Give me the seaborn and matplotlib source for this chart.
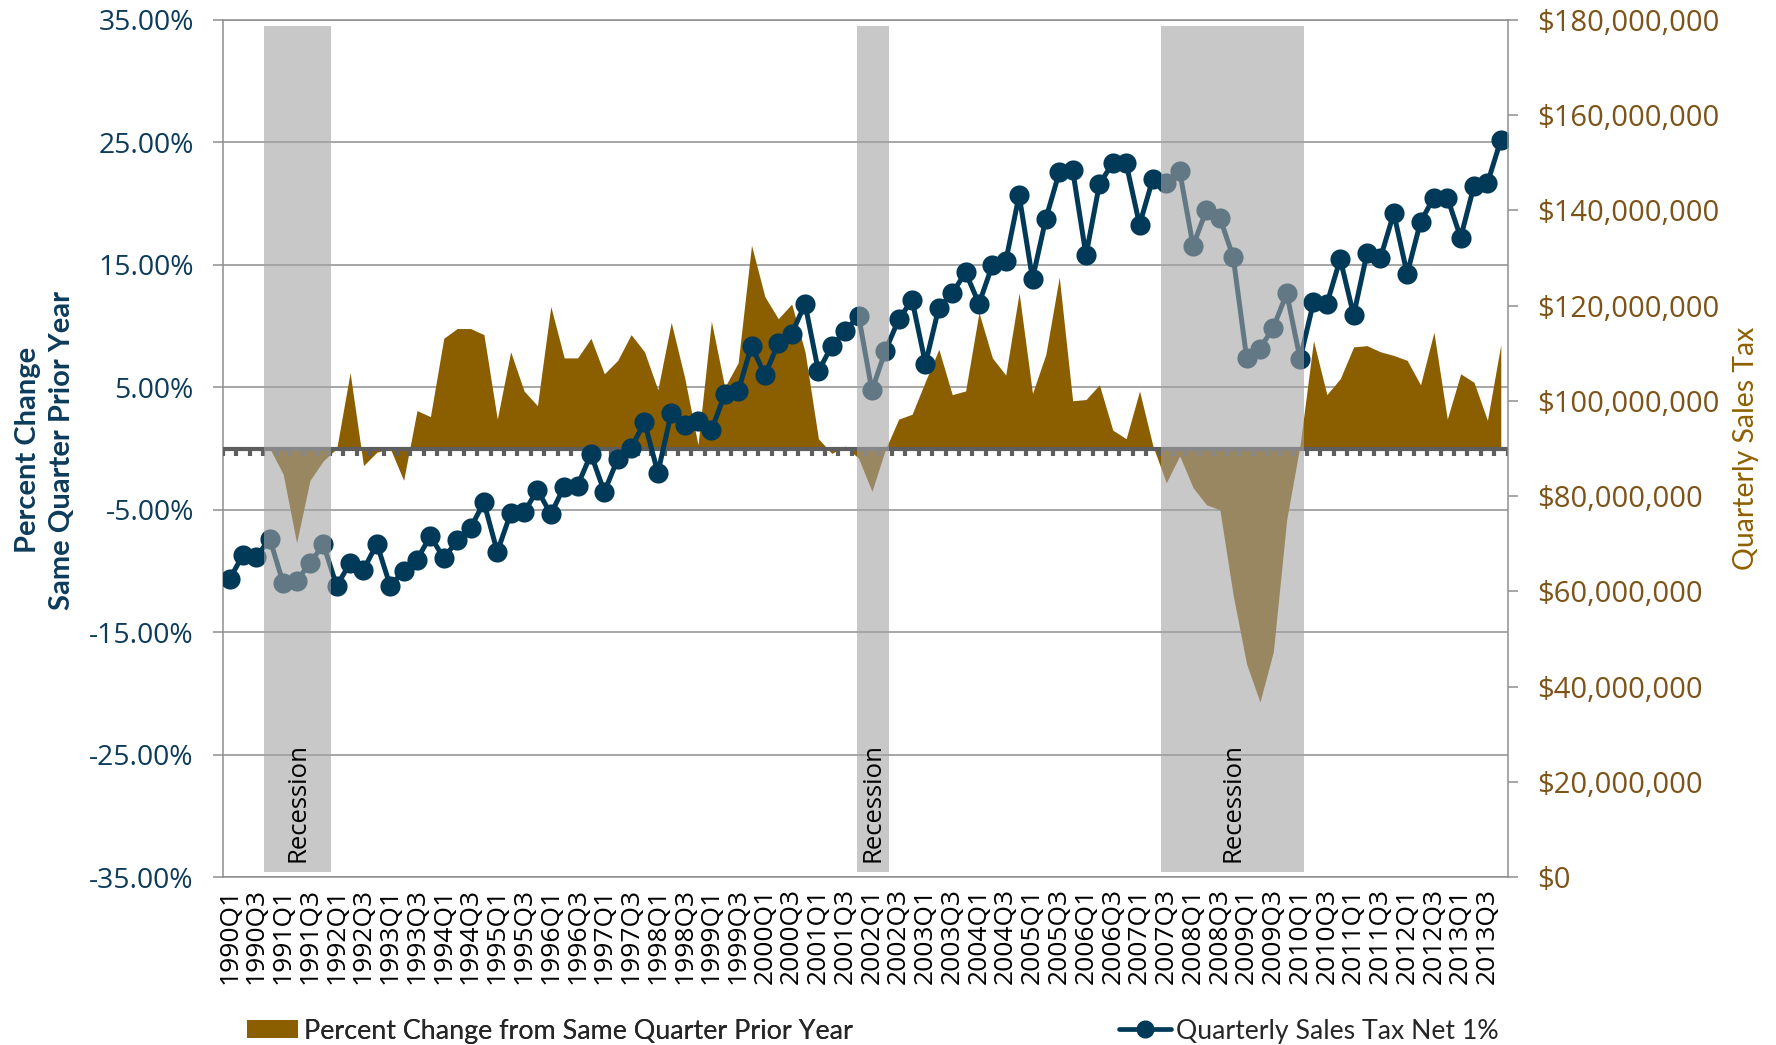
import numpy as np
import pandas as pd
import matplotlib
matplotlib.use("Agg")
import matplotlib.pyplot as plt
import matplotlib.transforms as mtransforms
from matplotlib.lines import Line2D
from matplotlib.patches import Patch
from matplotlib.ticker import FuncFormatter
import seaborn as sns

# ---------------- data ----------------
years = list(range(1990, 2014))
quarter_names = ["Q1", "Q2", "Q3", "Q4"]
quarters = [f"{y}{q}" for y in years for q in quarter_names]

# percent change from same quarter prior year (%)
pct_change = [
    0.0, 0.0, 0.0, 0.0, -2.1, -7.7, -2.6, -1.0,
    0.0, 6.2, -1.4, -0.3, 0.0, -2.6, 3.1, 2.6,
    9.0, 9.8, 9.8, 9.3, 2.4, 7.9, 4.7, 3.5,
    11.6, 7.4, 7.4, 9.0, 6.1, 7.2, 9.3, 7.9,
    4.8, 10.3, 5.8, 0.3, 10.4, 5.0, 7.0, 16.6,
    12.4, 10.6, 11.8, 7.9, 0.8, -0.4, 0.2, -0.8,
    -3.5, -0.1, 2.4, 2.8, 5.5, 8.1, 4.4, 4.7,
    11.1, 7.4, 6.0, 12.7, 4.5, 7.7, 14.0, 3.9,
    4.0, 5.2, 1.5, 0.8, 4.7, 0.2, -2.8, -0.6,
    -3.2, -4.6, -5.0, -12.0, -17.6, -20.7, -16.6, -5.8,
    0.3, 8.8, 4.4, 5.7, 8.3, 8.4, 7.9, 7.6,
    7.2, 5.2, 9.5, 2.4, 6.1, 5.4, 2.3, 8.5,
]

# quarterly sales tax net 1% (millions of dollars)
sales_tax_m = [
    62.6, 67.7, 67.3, 71.0, 61.7, 62.2, 65.9, 69.9,
    61.1, 66.0, 64.5, 70.0, 61.1, 64.3, 66.6, 71.7,
    66.9, 70.7, 73.3, 78.7, 68.3, 76.4, 76.6, 81.3,
    76.2, 82.0, 82.2, 88.8, 80.9, 87.8, 90.0, 95.6,
    84.9, 97.4, 95.0, 95.8, 93.8, 101.4, 102.0, 111.6,
    105.4, 112.1, 114.0, 120.4, 106.2, 111.6, 114.6, 117.9,
    102.2, 110.5, 117.1, 121.2, 107.8, 119.6, 122.6, 127.0,
    120.4, 128.5, 129.3, 143.2, 125.6, 138.3, 148.0, 148.5,
    130.6, 145.5, 150.0, 149.9, 137.0, 146.7, 145.7, 148.2,
    132.6, 140.1, 138.5, 130.2, 109.1, 111.0, 115.4, 122.6,
    108.8, 120.7, 120.4, 129.8, 118.0, 131.0, 130.0, 139.4,
    126.7, 137.6, 142.7, 142.7, 134.3, 145.2, 145.7, 154.8,
]

recession_start = [2.6, 46.9, 69.6]
recession_end = [7.6, 49.3, 80.3]
recession_label = ["Recession", "Recession", "Recession"]

left_ticks = [-35, -25, -15, -5, 5, 15, 25, 35]
right_ticks_m = [0, 20, 40, 60, 80, 100, 120, 140, 160, 180]

# ---------------- style ----------------
sns.set_theme(style="white")
plt.rcParams["font.family"] = ["Open Sans", "DejaVu Sans"]

navy = "#003a58"
navy_txt = "#0d3c5b"
brown = "#8b5e00"
brown_txt = "#7d5318"
brown_title = "#8e6000"
grid_c = "#8e8e8e"
zero_c = "#5e5e5e"
band_c = (164 / 255, 164 / 255, 164 / 255)

df = pd.DataFrame({
    "quarter": quarters,
    "pos": np.arange(len(quarters)),
    "pct": pct_change,
    "tax": np.array(sales_tax_m) * 1e6,
})

W, H = 1776, 1045
fig = plt.figure(figsize=(W / 100, H / 100), dpi=100)
L, R, T, B = 223, 1507.5, 20, 877
ax = fig.add_axes([L / W, 1 - B / H, (R - L) / W, (B - T) / H])

# primary axis: percent change area
ax.set_xlim(-0.5, len(quarters) - 0.5)
ax.set_ylim(-35, 35)
ax.set_yticks(left_ticks)
ax.yaxis.set_major_formatter(FuncFormatter(lambda v, p: f"{v:.2f}%"))
ax.grid(axis="y", color=grid_c, lw=1.1)
ax.grid(axis="x", visible=False)
ax.set_axisbelow(True)
for s in ["top", "bottom", "left"]:
    ax.spines[s].set_color(grid_c)
    ax.spines[s].set_linewidth(1.1)
ax.spines["right"].set_visible(False)
ax.tick_params(axis="y", direction="out", length=7, width=1.1, color=grid_c,
               labelsize=20.3, labelcolor=navy_txt, pad=14, left=True)
ax.set_xticks(df["pos"][::2])
ax.set_xticklabels(df["quarter"][::2], rotation=90, fontsize=19, color="black")
ax.tick_params(axis="x", length=0, pad=8)

ax.fill_between(df["pos"], 0, df["pct"], color=brown, lw=0, zorder=2)
ax.axhline(0, color=zero_c, lw=3.0, zorder=3)
ax.vlines(np.arange(len(quarters) + 1) - 0.5, -0.6, 0, color=zero_c, lw=3.0, zorder=3)

# secondary axis: sales tax line
ax2 = ax.twinx()
sns.lineplot(data=df, x="pos", y="tax", ax=ax2, color=navy, lw=3.6, marker="o",
             markersize=14.5, markeredgewidth=0, zorder=2)
ax2.set_xlim(-0.5, len(quarters) - 0.5)
ax2.set_ylim(0, 180e6)
ax2.set_yticks(np.array(right_ticks_m) * 1e6)
ax2.yaxis.set_major_formatter(FuncFormatter(lambda v, p: f"${v:,.0f}"))
ax2.set_xlabel("")
ax2.set_ylabel("")
ax2.grid(False)
for s in ["top", "bottom", "left"]:
    ax2.spines[s].set_visible(False)
ax2.spines["right"].set_color(grid_c)
ax2.spines["right"].set_linewidth(1.1)
ax2.tick_params(axis="y", direction="out", length=7, width=1.1, color=grid_c,
                labelsize=21, labelcolor=brown_txt, pad=14, right=True)

trans = mtransforms.blended_transform_factory(ax2.transData, ax2.transAxes)
for s, e, lab in zip(recession_start, recession_end, recession_label):
    ax2.axvspan(s, e, ymin=0.006, ymax=0.993, color=band_c, alpha=0.6, lw=0, zorder=5)
    ax2.text((s + e) / 2, 0.018, lab, transform=trans, rotation=90, ha="center",
             va="bottom", fontsize=18.5, color="black", zorder=6)

# axis titles
fig.text(45 / W, 1 - 450 / H, "Percent Change\nSame Quarter Prior Year", rotation=90,
         ha="center", va="center", multialignment="center", fontsize=21,
         fontweight="bold", color=navy_txt, family=["Lato", "DejaVu Sans"], linespacing=1.4)
fig.text(1746 / W, 1 - 448 / H, "Quarterly Sales Tax", rotation=90, ha="center",
         va="center", fontsize=20.4, color=brown_title, family=["Lato", "DejaVu Sans"])

# legends
leg_font1 = {"family": ["Lato", "DejaVu Sans"], "size": 19.4}
leg_font2 = {"family": ["Lato", "DejaVu Sans"], "size": 19.2}
leg1 = fig.legend(handles=[Patch(facecolor=brown, edgecolor="none")],
                  labels=["Percent Change from Same Quarter Prior Year"],
                  loc="center left", bbox_to_anchor=(247 / W, 1 - 1031 / H),
                  frameon=False, prop=leg_font1, handlelength=1.9, handleheight=0.63,
                  handletextpad=0.2, borderpad=0, borderaxespad=0)
leg2 = fig.legend(handles=[Line2D([0], [0], color=navy, lw=3.4, marker="o", markersize=12)],
                  labels=["Quarterly Sales Tax Net 1%"],
                  loc="center left", bbox_to_anchor=(1119 / W, 1 - 1031 / H),
                  frameon=False, prop=leg_font2, handlelength=1.95,
                  handletextpad=0.2, borderpad=0, borderaxespad=0)
fig.add_artist(leg1)

fig.savefig("out.png", dpi=100, facecolor="white")
